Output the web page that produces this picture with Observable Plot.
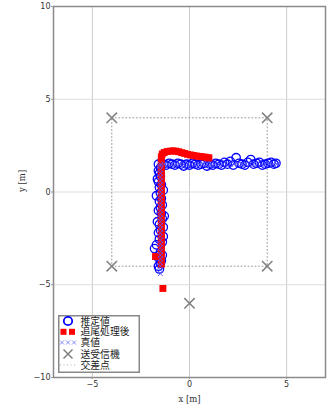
<!DOCTYPE html>
<html><head><meta charset="utf-8">
<script src="https://cdn.jsdelivr.net/npm/d3@7"></script>
<script src="https://cdn.jsdelivr.net/npm/@observablehq/plot@0.6"></script>
<style>
body{margin:0;background:#fff;}
#wrap{position:relative;width:327px;height:412px;}
#legend{position:absolute;left:58px;top:315px;overflow:visible;}
</style>
</head><body>
<div id="wrap"></div>
<script>
// True path (真値)
const trueX = [-1.5,-1.5,-1.5,-1.5,-1.5,-1.5,-1.5,-1.5,-1.5,-1.5,-1.5,-1.5,-1.5,-1.5,-1.5,-1.5,-1.5,-1.5,-1.5,-1.5,-1.5,-1.5,-1.5,-1.5,-1.5,-1.5,-1.5,-1.5,-1.5,-1.5,
  -1.5,-1.3,-1.1,-0.9,-0.7,-0.5,-0.3,-0.1,0.1,0.3,0.5,0.7,0.9,1.1,1.3,1.5,1.7,1.9,2.1,2.3,2.5,2.7,2.9,3.1,3.3,3.5,3.7,3.9,4.1,4.3,4.5];
const trueY = [-4.4,-4.2,-4.0,-3.8,-3.6,-3.4,-3.2,-3.0,-2.8,-2.6,-2.4,-2.2,-2.0,-1.8,-1.6,-1.4,-1.2,-1.0,-0.8,-0.6,-0.4,-0.2,0.0,0.2,0.4,0.6,0.8,1.0,1.2,1.4,
  1.5,1.5,1.5,1.5,1.5,1.5,1.5,1.5,1.5,1.5,1.5,1.5,1.5,1.5,1.5,1.5,1.5,1.5,1.5,1.5,1.5,1.5,1.5,1.5,1.5,1.5,1.5,1.5,1.5,1.5,1.5];

// Estimated positions (推定値)
const estX = [-1.55,-1.6,-1.5,-1.45,-1.6,-1.4,-1.5,-1.8,-1.7,-1.4,-1.55,-1.35,-1.6,-1.5,-1.35,-1.55,-1.65,-1.4,-1.3,-1.45,-1.6,-1.5,-1.4,-1.55,-1.45,-1.7,-1.5,-1.35,-1.55,-1.45,-1.6,-1.65,-1.5,-1.55,-1.6,-1.5,-1.6,
  -1.35,-1.2,-1.05,-0.9,-0.75,-0.6,-0.45,-0.3,-0.15,0.0,0.15,0.3,0.45,0.6,0.75,0.9,1.05,1.2,1.35,1.5,1.65,1.8,1.95,2.1,2.25,2.4,2.55,2.7,2.85,3.0,3.15,3.3,3.45,3.6,3.75,3.9,4.05,4.2,4.35,4.45];
const estY = [-4.15,-4.0,-3.85,-3.7,-3.55,-3.4,-3.25,-3.05,-2.85,-2.7,-2.55,-2.4,-2.2,-2.05,-1.9,-1.75,-1.6,-1.45,-1.3,-1.15,-1.0,-0.85,-0.7,-0.5,-0.35,-0.2,-0.05,0.1,0.25,0.4,0.55,0.7,0.85,1.0,1.15,1.3,1.5,
  1.5,1.45,1.55,1.5,1.45,1.55,1.5,1.4,1.5,1.45,1.55,1.5,1.45,1.5,1.55,1.4,1.5,1.45,1.55,1.5,1.45,1.6,1.5,1.65,1.45,1.85,1.55,1.5,1.45,1.6,1.75,1.5,1.55,1.6,1.45,1.5,1.55,1.6,1.5,1.55];

// Tracked positions (追尾処理後)
const trkX = [-1.37,-1.75,-1.45,-1.45,-1.45,-1.45,-1.45,-1.45,-1.45,-1.45,-1.45,-1.45,-1.45,-1.45,-1.45,-1.45,-1.45,-1.45,-1.45,-1.45,-1.45,-1.45,-1.45,-1.45,-1.45,-1.45,-1.45,-1.45,-1.45,-1.45,-1.45,
  -1.45,-1.4,-1.3,-1.15,-1.0,-0.85,-0.7,-0.55,-0.4,-0.25,-0.1,0.05,0.2,0.35,0.5,0.65,0.8,0.95,1.0];
const trkY = [-5.2,-3.48,-3.9,-3.7,-3.5,-3.3,-3.1,-2.9,-2.7,-2.5,-2.3,-2.1,-1.9,-1.7,-1.5,-1.3,-1.1,-0.9,-0.7,-0.5,-0.3,-0.1,0.1,0.3,0.5,0.7,0.9,1.1,1.3,1.5,1.7,
  1.9,2.05,2.13,2.18,2.2,2.22,2.2,2.17,2.12,2.08,2.03,2.0,1.97,1.94,1.92,1.9,1.88,1.85,1.83];

// Transceivers (送受信機)
const txX = [-4, 4, -4, 4, 0];
const txY = [4, 4, -4, -4, -6];

// Intersection square (交差点)
const crossX = [-4, 4, 4, -4, -4];
const crossY = [4, 4, -4, -4, 4];

const xTicks = [-5, 0, 5];
const yTicks = [-10, -5, 0, 5, 10];
const legendItems = ["推定値", "追尾処理後", "真値", "送受信機", "交差点"];

const zip = (xs, ys) => xs.map((x, i) => ({x, y: ys[i]}));

const plot = Plot.plot({
  width: 327, height: 412,
  marginLeft: 53, marginRight: 2, marginTop: 6, marginBottom: 35,
  x: {domain: [-7, 7]},
  y: {domain: [-10, 10]},
  style: {fontFamily: "DejaVu Sans", fontSize: "8px", color: "#333", background: "#fff"},
  marks: [
    Plot.gridX(xTicks, {stroke: "#ccc", strokeOpacity: 1}),
    Plot.gridY([-5, 0, 5], {stroke: "#ddd", strokeOpacity: 1}),
    Plot.line(zip(crossX, crossY), {x: "x", y: "y", stroke: "#999", strokeWidth: 1, strokeDasharray: "1,2.5"}),
    Plot.dot(zip(estX, estY), {x: "x", y: "y", r: 4.2, stroke: "#0000ff", strokeWidth: 1.3, fill: "none"}),
    Plot.dot(zip(trkX, trkY), {x: "x", y: "y", symbol: "square", r: 3.9, fill: "#ff0000", stroke: "none"}),
    Plot.dot(zip(trueX, trueY), {x: "x", y: "y", symbol: "times", r: 2.4, stroke: "#5050ff", strokeWidth: 0.9}),
    Plot.dot(zip(txX, txY), {x: "x", y: "y", symbol: "times", r: 4.8, stroke: "#808080", strokeWidth: 1.5}),
    Plot.frame({stroke: "#8a8a8a", strokeWidth: 1.5}),
    Plot.axisX(xTicks, {tickSize: 2, tickPadding: 2, label: null, stroke: "#999"}),
    Plot.axisY(yTicks, {tickSize: 2, tickPadding: 1, label: null, stroke: "#999"}),
    Plot.text(["x [m]"], {frameAnchor: "bottom", dy: 24, fontFamily: "DejaVu Serif", fontSize: 8.5, fill: "#333"}),
    Plot.text(["y [m]"], {frameAnchor: "left", dx: -31, rotate: -90, fontFamily: "DejaVu Serif", fontSize: 8.5, fill: "#333"})
  ]
});
const wrap = document.getElementById("wrap");
wrap.appendChild(plot);

const rowY = [6, 16.8, 27.5, 39, 50];
const ns = "http://www.w3.org/2000/svg";
const lg = document.createElementNS(ns, "svg");
lg.setAttribute("id", "legend");
lg.setAttribute("width", 82);
lg.setAttribute("height", 58);
lg.innerHTML = `
<rect x="0.75" y="0.75" width="80.5" height="56.5" fill="#fff" stroke="#888" stroke-width="1.5"/>
<circle cx="10" cy="${rowY[0]}" r="4.2" fill="none" stroke="#0000ff" stroke-width="1.8"/>
<rect x="2.5" y="${rowY[1]-3}" width="6" height="6" fill="#ff0000"/>
<rect x="11" y="${rowY[1]-3}" width="6" height="6" fill="#ff0000"/>
<g stroke="#7070ff" stroke-width="0.8">
<path d="M2,${rowY[2]-2}l4,4M6,${rowY[2]-2}l-4,4"/>
<path d="M8,${rowY[2]-2}l4,4M12,${rowY[2]-2}l-4,4"/>
<path d="M14,${rowY[2]-2}l4,4M18,${rowY[2]-2}l-4,4"/>
</g>
<path d="M5.5,${rowY[3]-4.5}l9,9M14.5,${rowY[3]-4.5}l-9,9" stroke="#808080" stroke-width="1.5"/>
<line x1="2" x2="19" y1="${rowY[4]}" y2="${rowY[4]}" stroke="#aaa" stroke-width="1" stroke-dasharray="1,2.5"/>
` + legendItems.map((t, i) => `<text x="22.5" y="${rowY[i]}" dy="0.36em" font-family="Noto Sans CJK JP" font-size="9.8" fill="#222">${t}</text>`).join("");
wrap.appendChild(lg);
</script>
</body></html>
